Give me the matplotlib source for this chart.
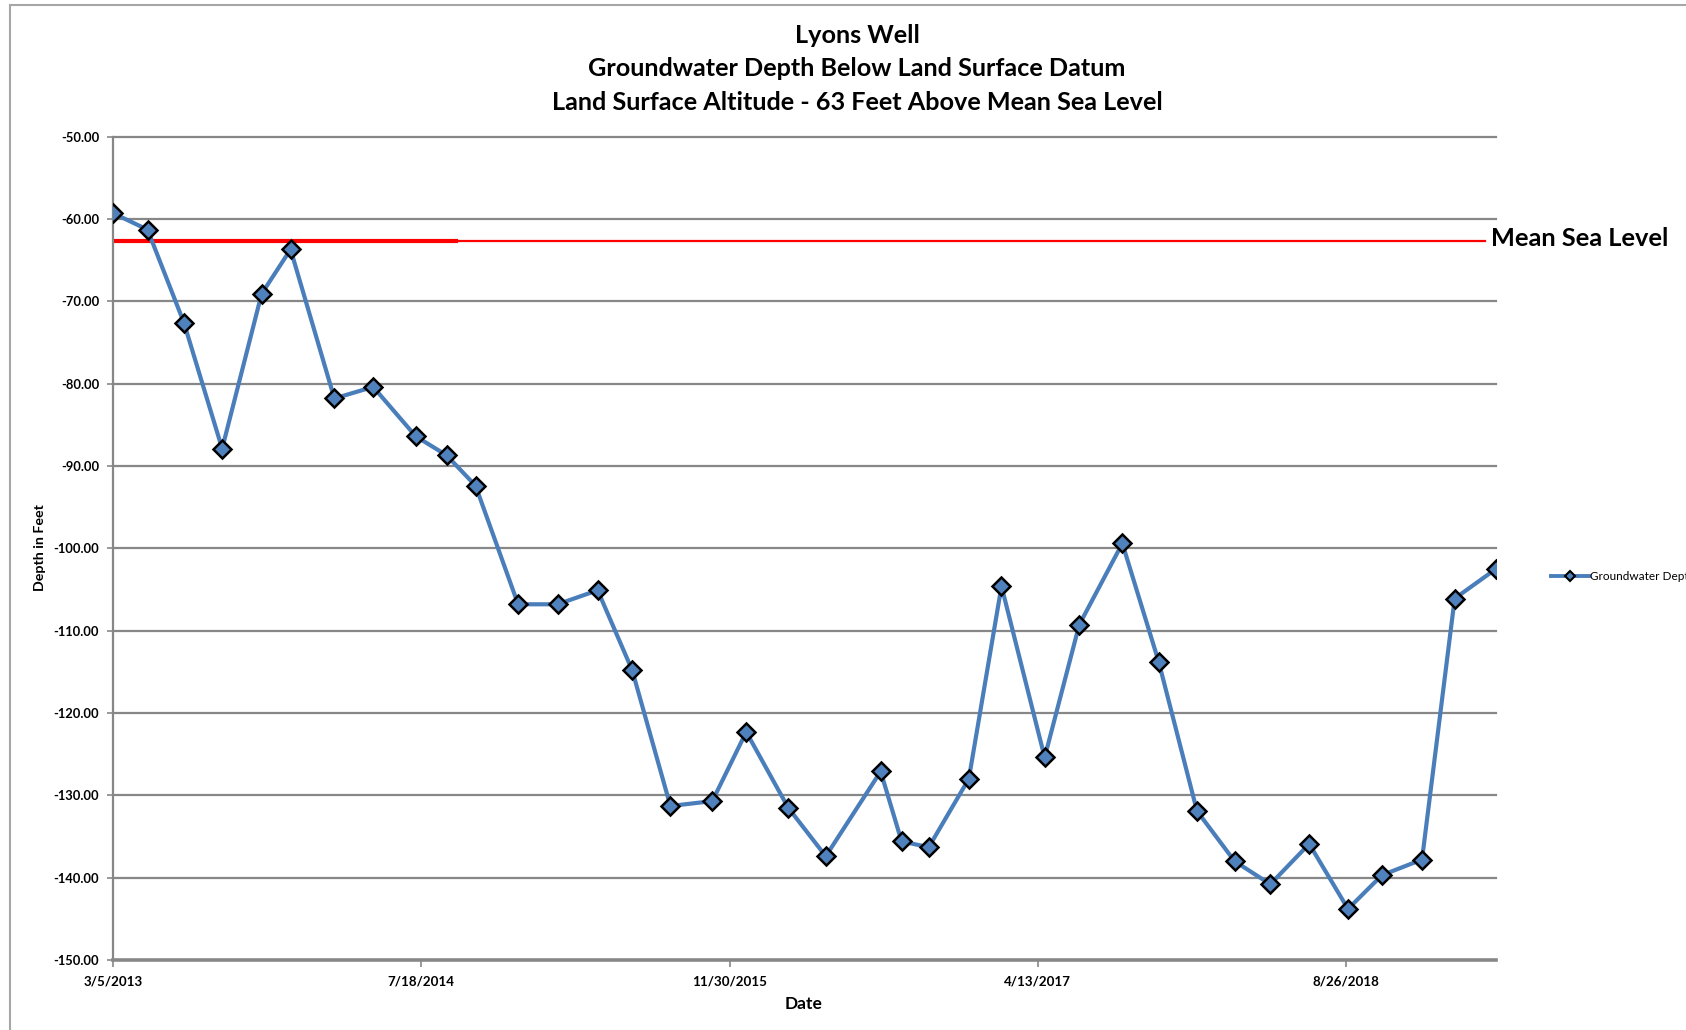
import matplotlib
matplotlib.use('Agg')
import matplotlib.pyplot as plt
import numpy as np
from datetime import datetime
from matplotlib.lines import Line2D
from matplotlib.patches import Rectangle

plt.rcParams['font.family'] = ['Lato', 'DejaVu Sans']

# ---------------- data ----------------
sample_dates = [
    '2013-03-05', '2013-04-30', '2013-06-28', '2013-08-29', '2013-11-01', '2013-12-18',
    '2014-02-27', '2014-05-01', '2014-07-09', '2014-08-28', '2014-10-14', '2014-12-22',
    '2015-02-24', '2015-04-30', '2015-06-25', '2015-08-26', '2015-11-02', '2015-12-27',
    '2016-03-04', '2016-05-04', '2016-08-01', '2016-09-04', '2016-10-18', '2016-12-22',
    '2017-02-13', '2017-04-24', '2017-06-19', '2017-08-28', '2017-10-26', '2017-12-27',
    '2018-02-26', '2018-04-25', '2018-06-27', '2018-08-29', '2018-10-23', '2018-12-27',
    '2019-02-18', '2019-04-26',
]
groundwater_depth = [
    -59.3, -61.3, -72.6, -87.9, -69.1, -63.7,
    -81.8, -80.4, -86.4, -88.7, -92.4, -106.8,
    -106.8, -105.1, -114.8, -131.3, -130.7, -122.3,
    -131.5, -137.4, -127.1, -135.6, -136.3, -128.0,
    -104.6, -125.4, -109.3, -99.4, -113.8, -131.9,
    -138.0, -140.8, -135.9, -143.8, -139.7, -137.8,
    -106.1, -102.5,
]
x_tick_labels = ['3/5/2013', '7/18/2014', '11/30/2015', '4/13/2017', '8/26/2018']
y_tick_values = [-50, -60, -70, -80, -90, -100, -110, -120, -130, -140, -150]
msl_level = -62.7
msl_thick_end = '2014-09-13'
msl_end = '2019-04-08'
title_lines = ['Lyons Well',
               'Groundwater Depth Below Land Surface Datum',
               'Land Surface Altitude - 63 Feet Above Mean Sea Level']
series_name = 'Groundwater Depth'
msl_label = 'Mean Sea Level'
x_label = 'Date'
y_label = 'Depth in Feet'

# ---------------- figure ----------------
W, H = 1686, 1030
fig = plt.figure(figsize=(W / 100, H / 100), dpi=100)
fig.patch.set_facecolor('white')

# outer chart border
fig.patches.append(Rectangle((10 / W, -0.1), 1.2, 1 - 5 / H + 0.1, transform=fig.transFigure,
                             fill=False, edgecolor='#a6a6a6', linewidth=1.5))

L, R, T, B = 113, 1496, 136.6, 960
ax = fig.add_axes([L / W, 1 - B / H, (R - L) / W, (B - T) / H])

x = np.array([np.datetime64(d) for d in sample_dates])
y = np.array(groundwater_depth)

grid_color = '#878787'
for v in y_tick_values:
    ax.axhline(v, color=grid_color, lw=1.6 if v != -150 else 2.6, zorder=1, clip_on=False)

ax.plot(x, y, color='#4a7ebb', lw=3.0, marker='D', ms=9.5, markerfacecolor='#4f81bd',
        markeredgecolor='black', markeredgewidth=1.8, zorder=3, label=series_name,
        solid_joinstyle='round')

# mean sea level lines
ax.plot([x[0], np.datetime64(msl_end)], [msl_level, msl_level], color='#ff0000', lw=1.6, zorder=2)
ax.plot([x[0], np.datetime64(msl_thick_end)], [msl_level, msl_level], color='#ff0000', lw=3.0, zorder=2)

ax.set_xlim(x[0], x[-1])
ax.set_ylim(-150, -50)

tick_dates = [np.datetime64(datetime.strptime(s, '%m/%d/%Y').date()) for s in x_tick_labels]
ax.set_xticks(tick_dates)
ax.set_xticklabels(x_tick_labels, fontsize=9.6, fontweight='bold')
ax.set_yticks(y_tick_values)
ax.set_yticklabels([f'{v:.2f}' for v in y_tick_values], fontsize=9.3, fontweight='bold')

ax.tick_params(axis='x', length=5, width=1.2, color=grid_color, pad=6)
ax.tick_params(axis='y', length=4, width=1.2, color=grid_color, pad=6)

for s in ['top', 'right', 'bottom']:
    ax.spines[s].set_visible(False)
ax.spines['left'].set_color(grid_color)
ax.spines['left'].set_linewidth(1.6)

ax.set_facecolor('none')

# axis titles
fig.text(40 / W, 1 - 548 / H, y_label, rotation=90, ha='center', va='center',
         fontsize=10.3, fontweight='bold')
fig.text(804 / W, 1 - 1004 / H, x_label, ha='center', va='center',
         fontsize=12.5, fontweight='bold')

# chart title
for line, ypx in zip(title_lines, [35.5, 69, 103]):
    fig.text(857 / W, 1 - ypx / H, line, ha='center', va='center',
             fontsize=18.2, fontweight='bold')

# mean sea level label
fig.text(1491 / W, 1 - 239 / H, msl_label, ha='left', va='center',
         fontsize=18.3, fontweight='bold')

# legend (cut by figure edge like the original)
handle = Line2D([0], [0], color='#4a7ebb', lw=2.8, marker='D', ms=5,
                markerfacecolor='#4f81bd', markeredgecolor='black', markeredgewidth=1.5)
fig.legend([handle], [series_name], loc='center left',
           bbox_to_anchor=(1551 / W, 1 - 577 / H), frameon=False, fontsize=8.5,
           handlelength=3.2, handletextpad=0.1, borderpad=0, borderaxespad=0)

fig.savefig('out.png', dpi=100)
